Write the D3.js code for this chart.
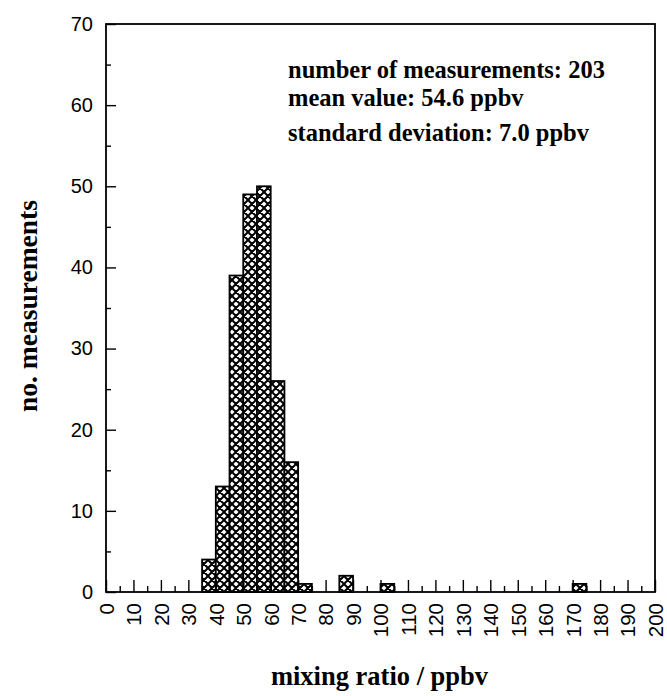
<!DOCTYPE html>
<html>
<head>
<meta charset="utf-8">
<script src="https://cdn.jsdelivr.net/npm/d3@7"></script>
<style>
  html, body { margin: 0; padding: 0; background: #fff; }
  svg { display: block; }
</style>
</head>
<body>
<svg id="chart" width="667" height="696"></svg>
<script>
// ---- data ----
const binStarts = [35, 40, 45, 50, 55, 60, 65, 70, 85, 100, 170];
const counts    = [4, 13, 39, 49, 50, 26, 16, 1, 2, 1, 1];
const binWidth  = 5;
const xTickValues = [0,10,20,30,40,50,60,70,80,90,100,110,120,130,140,150,160,170,180,190,200];
const xMinorTicks = [5,15,25,35,45,55,65,75,85,95,105,115,125,135,145,155,165,175,185,195];
const yTickValues = [0,10,20,30,40,50,60,70];
const yMinorTicks = [5,15,25,35,45,55,65];
const statLines = ["number of measurements: 203", "mean value: 54.6 ppbv", "standard deviation: 7.0 ppbv"];
const xTitle = "mixing ratio / ppbv";
const yTitle = "no. measurements";

// ---- layout ----
const L = 106, R = 655, T = 24, B = 592;
const svg = d3.select("#chart");
const x = d3.scaleLinear().domain([0, 200]).range([L, R]);
const y = d3.scaleLinear().domain([0, 70]).range([B, T]);

// crosshatch pattern
const P = 8;
const defs = svg.append("defs");
const pat = defs.append("pattern")
  .attr("id", "xhatch").attr("patternUnits", "userSpaceOnUse")
  .attr("width", P).attr("height", P);
pat.append("rect").attr("width", P).attr("height", P).attr("fill", "#fff");
pat.append("path").attr("d", `M0,0L${P},${P}M${P},0L0,${P}M-1,${P-1}L1,${P+1}M${P-1},-1L${P+1},1M${P-1},${P+1}L${P+1},${P-1}M-1,1L1,-1`)
  .attr("stroke", "#000").attr("stroke-width", 2).attr("fill", "none");

const data = binStarts.map((s, i) => ({ s, c: counts[i] }));

// bars
svg.append("g").selectAll("rect").data(data).join("rect")
  .attr("x", d => x(d.s))
  .attr("y", d => y(d.c))
  .attr("width", d => x(d.s + binWidth) - x(d.s))
  .attr("height", d => y(0) - y(d.c))
  .attr("fill", "url(#xhatch)")
  .attr("stroke", "#000").attr("stroke-width", 1.8);

const tickFont = "'Liberation Sans', Arial, sans-serif";

// x axis major
const gx = svg.append("g").attr("transform", `translate(0,${B})`)
  .call(d3.axisBottom(x).tickValues(xTickValues).tickSizeInner(-12).tickSizeOuter(0).tickFormat(d3.format("d")));
gx.select(".domain").remove();
gx.selectAll("line").attr("stroke", "#000").attr("stroke-width", 1.4);
gx.selectAll("text")
  .attr("transform", "rotate(-90)")
  .attr("text-anchor", "end")
  .attr("x", -11).attr("y", 0).attr("dy", "0.36em")
  .attr("font-family", tickFont).attr("font-size", 20.5).attr("fill", "#000");

// x axis minor
const gxm = svg.append("g").attr("transform", `translate(0,${B})`)
  .call(d3.axisBottom(x).tickValues(xMinorTicks).tickSizeInner(-6).tickSizeOuter(0).tickFormat(""));
gxm.select(".domain").remove();
gxm.selectAll("line").attr("stroke", "#000").attr("stroke-width", 1.4);

// y axis major
const gy = svg.append("g").attr("transform", `translate(${L},0)`)
  .call(d3.axisLeft(y).tickValues(yTickValues).tickSizeInner(-10).tickSizeOuter(0).tickPadding(13));
gy.select(".domain").remove();
gy.selectAll("line").attr("stroke", "#000").attr("stroke-width", 1.4);
gy.selectAll("text").attr("font-family", tickFont).attr("font-size", 20).attr("fill", "#000");

// y axis minor
const gym = svg.append("g").attr("transform", `translate(${L},0)`)
  .call(d3.axisLeft(y).tickValues(yMinorTicks).tickSizeInner(-5).tickSizeOuter(0).tickFormat(""));
gym.select(".domain").remove();
gym.selectAll("line").attr("stroke", "#000").attr("stroke-width", 1.4);

// frame
svg.append("rect").attr("x", L).attr("y", T).attr("width", R - L).attr("height", B - T)
  .attr("fill", "none").attr("stroke", "#000").attr("stroke-width", 1.8);

const serif = "'Liberation Serif', 'Times New Roman', serif";

// stats text
const statY = [78, 106, 141];
svg.append("g").selectAll("text").data(statLines).join("text")
  .attr("x", 288).attr("y", (d, i) => statY[i])
  .attr("font-family", serif).attr("font-weight", "bold").attr("font-size", 24.5)
  .attr("fill", "#000").text(d => d);

// axis titles
svg.append("text")
  .attr("x", (L + R) / 2 - 1).attr("y", 685)
  .attr("text-anchor", "middle")
  .attr("font-family", serif).attr("font-weight", "bold").attr("font-size", 26.5)
  .attr("fill", "#000").text(xTitle);

svg.append("text")
  .attr("transform", `translate(37,${(T + B) / 2 - 2}) rotate(-90)`)
  .attr("text-anchor", "middle")
  .attr("font-family", serif).attr("font-weight", "bold").attr("font-size", 27.5)
  .attr("fill", "#000").text(yTitle);
</script>
</body>
</html>
